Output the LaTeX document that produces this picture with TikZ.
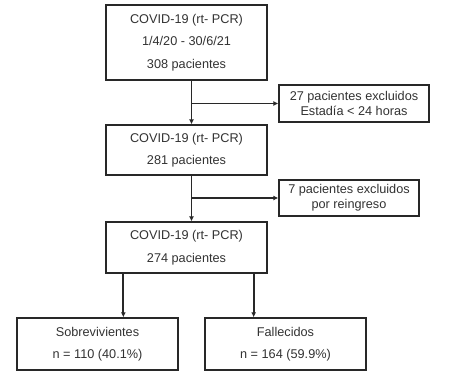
\documentclass[tikz,border=0pt]{standalone}
\usepackage{fontspec}
\setmainfont{Liberation Sans}
\definecolor{BoxLine}{RGB}{40,40,40}
\definecolor{TextGray}{RGB}{50,50,50}
\usetikzlibrary{arrows.meta,positioning,calc}

\begin{document}
\begin{tikzpicture}[x=1pt,y=-1pt,
    box/.style={draw=BoxLine,line width=1.3pt,inner sep=0pt,align=center,
                text=TextGray,font=\fontsize{12.7}{22.5}\selectfont,
                execute at begin node={\rule{0pt}{15pt}}},
    exclbox/.style={draw=BoxLine,line width=1.3pt,inner sep=0pt,align=center,
                text=TextGray,font=\fontsize{12.7}{15}\selectfont},
    arr/.style={-{Latex[length=5pt,width=5pt]},BoxLine,line width=1.8pt}]
  \useasboundingbox (0,0) rectangle (463,375);
  %% main column
  \node[box,minimum width=161pt,minimum height=75pt] (start) at (186.5,42.5)
       {COVID-19 (rt- PCR)\\1/4/20 - 30/6/21\\308 pacientes};
  \node[box,minimum width=161pt,minimum height=50pt] (step1) at (186.5,150)
       {COVID-19 (rt- PCR)\\281 pacientes};
  \node[box,minimum width=161pt,minimum height=51pt] (step2) at (186.5,247.5)
       {COVID-19 (rt- PCR)\\274 pacientes};
  %% exclusions
  \node[exclbox,minimum width=150pt,minimum height=37pt] (excl1) at (354,103.5)
       {27 pacientes excluidos\\Estadía < 24 horas};
  \node[exclbox,minimum width=140pt,minimum height=36pt] (excl2) at (349,198)
       {7 pacientes excluidos\\por reingreso};
  %% outcomes
  \node[box,minimum width=161pt,minimum height=52pt] (alive) at (97.5,344)
       {Sobrevivientes\\n = 110 (40.1\%)};
  \node[box,minimum width=161pt,minimum height=52pt] (dead) at (285.5,344)
       {Fallecidos\\n = 164 (59.9\%)};
  %% arrows down
  \draw[arr] ([xshift=5pt]start.south) coordinate (t1)
       -- (t1 |- step1.north);
  \draw[arr] (t1 |- excl1.west) -- (excl1.west);
  \draw[arr] ([xshift=5pt]step1.south) coordinate (t2)
       -- (t2 |- step2.north);
  \draw[arr] (t2 |- excl2.west) -- (excl2.west);
  %% split
  \draw[arr] ([xshift=18pt]step2.south west) coordinate (s1)
       -- (s1 |- alive.north);
  \draw[arr] ([xshift=-14pt]step2.south east) coordinate (s2)
       -- (s2 |- dead.north);
\end{tikzpicture}
\end{document}
